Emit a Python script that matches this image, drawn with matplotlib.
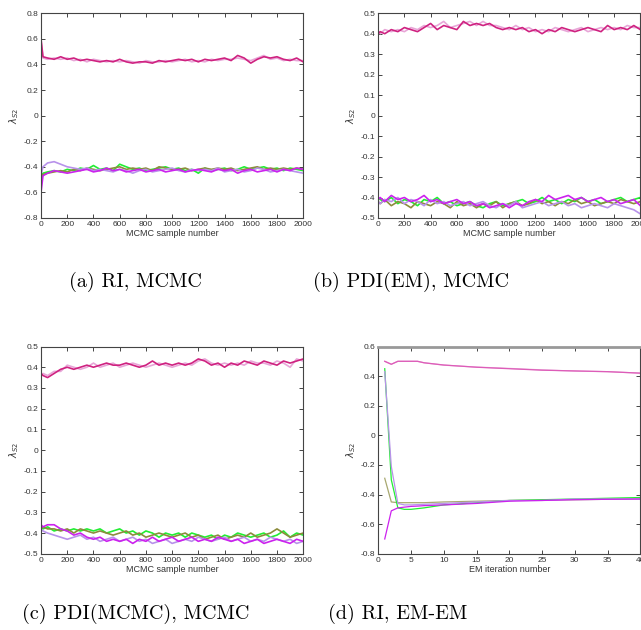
import matplotlib
matplotlib.use("Agg")
import matplotlib.pyplot as plt

# sample positions of the read-off MCMC trace values
mcmc_x = [0, 15, 50, 100, 150, 200, 250, 300, 350, 400, 450, 500, 550, 600, 650, 700,
          750, 800, 850, 900, 950, 1000, 1050, 1100, 1150, 1200, 1250, 1300, 1350, 1400,
          1450, 1500, 1550, 1600, 1650, 1700, 1750, 1800, 1850, 1900, 1950, 2000]

# (a) RI, MCMC
a_top1 = [0.60, 0.46, 0.45, 0.44, 0.46, 0.44, 0.45, 0.43, 0.44, 0.43, 0.42, 0.43, 0.42, 0.44,
          0.42, 0.41, 0.42, 0.42, 0.41, 0.43, 0.42, 0.43, 0.44, 0.43, 0.44, 0.42, 0.44, 0.43,
          0.44, 0.45, 0.43, 0.47, 0.45, 0.41, 0.44, 0.46, 0.45, 0.46, 0.44, 0.43, 0.45, 0.42]
a_top2 = [0.58, 0.45, 0.44, 0.45, 0.44, 0.45, 0.43, 0.44, 0.42, 0.44, 0.43, 0.42, 0.43, 0.42,
          0.43, 0.42, 0.41, 0.43, 0.42, 0.42, 0.43, 0.42, 0.43, 0.44, 0.42, 0.43, 0.42, 0.44,
          0.43, 0.44, 0.44, 0.45, 0.44, 0.43, 0.45, 0.47, 0.44, 0.45, 0.43, 0.44, 0.43, 0.43]
a_green = [-0.47, -0.45, -0.44, -0.43, -0.44, -0.42, -0.43, -0.41, -0.42, -0.39, -0.42, -0.41,
           -0.43, -0.38, -0.40, -0.42, -0.41, -0.43, -0.42, -0.41, -0.40, -0.42, -0.41, -0.43,
           -0.42, -0.45, -0.41, -0.43, -0.42, -0.41, -0.43, -0.42, -0.40, -0.42, -0.41, -0.40,
           -0.42, -0.41, -0.43, -0.41, -0.42, -0.43]
a_olive = [-0.50, -0.46, -0.45, -0.44, -0.43, -0.44, -0.42, -0.43, -0.41, -0.42, -0.43, -0.42,
           -0.41, -0.40, -0.42, -0.41, -0.42, -0.41, -0.43, -0.40, -0.41, -0.42, -0.42, -0.41,
           -0.43, -0.42, -0.41, -0.42, -0.41, -0.42, -0.41, -0.43, -0.42, -0.41, -0.40, -0.42,
           -0.41, -0.42, -0.41, -0.42, -0.41, -0.42]
a_mag = [-0.60, -0.47, -0.45, -0.43, -0.44, -0.45, -0.44, -0.43, -0.42, -0.44, -0.43, -0.41,
         -0.43, -0.42, -0.44, -0.43, -0.42, -0.44, -0.43, -0.42, -0.44, -0.43, -0.42, -0.44,
         -0.43, -0.42, -0.43, -0.44, -0.42, -0.43, -0.42, -0.45, -0.43, -0.42, -0.44, -0.43,
         -0.42, -0.44, -0.42, -0.43, -0.41, -0.42]
a_lav = [-0.46, -0.40, -0.37, -0.36, -0.38, -0.40, -0.41, -0.42, -0.41, -0.43, -0.42, -0.43,
         -0.44, -0.42, -0.43, -0.45, -0.43, -0.42, -0.44, -0.43, -0.42, -0.41, -0.43, -0.44,
         -0.42, -0.43, -0.42, -0.43, -0.41, -0.44, -0.43, -0.42, -0.44, -0.43, -0.41, -0.42,
         -0.44, -0.43, -0.42, -0.43, -0.44, -0.45]

# (b) PDI(EM), MCMC
b_top1 = [0.40, 0.41, 0.40, 0.42, 0.41, 0.43, 0.42, 0.41, 0.43, 0.45, 0.42, 0.44, 0.43, 0.42,
          0.46, 0.44, 0.45, 0.44, 0.45, 0.43, 0.42, 0.43, 0.42, 0.43, 0.41, 0.42, 0.40, 0.42,
          0.41, 0.43, 0.42, 0.41, 0.42, 0.43, 0.42, 0.41, 0.44, 0.42, 0.43, 0.42, 0.44, 0.42]
b_top2 = [0.41, 0.40, 0.42, 0.41, 0.42, 0.41, 0.43, 0.42, 0.44, 0.43, 0.44, 0.46, 0.43, 0.44,
          0.45, 0.46, 0.44, 0.46, 0.44, 0.44, 0.43, 0.42, 0.44, 0.42, 0.43, 0.41, 0.42, 0.41,
          0.43, 0.42, 0.41, 0.42, 0.43, 0.41, 0.42, 0.43, 0.42, 0.43, 0.42, 0.44, 0.43, 0.43]
b_green = [-0.40, -0.41, -0.42, -0.40, -0.43, -0.41, -0.42, -0.44, -0.41, -0.42, -0.40, -0.43,
           -0.42, -0.44, -0.43, -0.42, -0.44, -0.45, -0.43, -0.42, -0.44, -0.43, -0.42, -0.41,
           -0.43, -0.42, -0.40, -0.42, -0.41, -0.43, -0.41, -0.42, -0.40, -0.42, -0.41, -0.43,
           -0.42, -0.41, -0.40, -0.42, -0.41, -0.40]
b_olive = [-0.42, -0.43, -0.41, -0.44, -0.42, -0.43, -0.45, -0.42, -0.43, -0.44, -0.42, -0.43,
           -0.45, -0.42, -0.44, -0.43, -0.45, -0.43, -0.44, -0.42, -0.45, -0.43, -0.42, -0.44,
           -0.43, -0.41, -0.43, -0.42, -0.44, -0.42, -0.43, -0.41, -0.43, -0.42, -0.44, -0.43,
           -0.42, -0.43, -0.41, -0.42, -0.43, -0.42]
b_mag = [-0.41, -0.40, -0.42, -0.39, -0.41, -0.40, -0.42, -0.41, -0.39, -0.42, -0.41, -0.43,
         -0.42, -0.41, -0.43, -0.42, -0.44, -0.43, -0.45, -0.44, -0.43, -0.45, -0.43, -0.44,
         -0.42, -0.41, -0.42, -0.39, -0.41, -0.40, -0.39, -0.41, -0.40, -0.42, -0.41, -0.40,
         -0.42, -0.41, -0.43, -0.42, -0.41, -0.44]
b_lav = [-0.42, -0.43, -0.41, -0.42, -0.40, -0.43, -0.41, -0.42, -0.44, -0.41, -0.43, -0.42,
         -0.44, -0.43, -0.42, -0.44, -0.43, -0.42, -0.44, -0.45, -0.43, -0.44, -0.42, -0.45,
         -0.44, -0.43, -0.42, -0.44, -0.43, -0.42, -0.44, -0.43, -0.45, -0.44, -0.43, -0.44,
         -0.45, -0.43, -0.44, -0.45, -0.46, -0.48]

# (c) PDI(MCMC), MCMC
c_top1 = [0.37, 0.36, 0.35, 0.37, 0.39, 0.40, 0.39, 0.40, 0.41, 0.40, 0.41, 0.42, 0.41, 0.41,
          0.42, 0.41, 0.40, 0.41, 0.43, 0.41, 0.42, 0.41, 0.42, 0.41, 0.42, 0.44, 0.43, 0.41,
          0.42, 0.40, 0.42, 0.41, 0.43, 0.42, 0.41, 0.43, 0.42, 0.41, 0.43, 0.42, 0.43, 0.44]
c_top2 = [0.36, 0.37, 0.36, 0.38, 0.38, 0.41, 0.40, 0.39, 0.40, 0.42, 0.40, 0.41, 0.42, 0.40,
          0.41, 0.42, 0.41, 0.40, 0.41, 0.42, 0.41, 0.40, 0.41, 0.42, 0.41, 0.43, 0.44, 0.42,
          0.41, 0.42, 0.41, 0.42, 0.41, 0.43, 0.42, 0.42, 0.41, 0.43, 0.42, 0.40, 0.44, 0.43]
c_green = [-0.37, -0.38, -0.37, -0.39, -0.38, -0.39, -0.38, -0.39, -0.38, -0.39, -0.38, -0.40,
           -0.39, -0.38, -0.40, -0.39, -0.41, -0.39, -0.40, -0.42, -0.40, -0.41, -0.40, -0.42,
           -0.40, -0.41, -0.42, -0.41, -0.43, -0.41, -0.42, -0.40, -0.41, -0.42, -0.41, -0.40,
           -0.42, -0.41, -0.39, -0.42, -0.40, -0.41]
c_olive = [-0.38, -0.37, -0.38, -0.38, -0.39, -0.38, -0.40, -0.38, -0.39, -0.40, -0.39, -0.40,
           -0.41, -0.40, -0.39, -0.41, -0.40, -0.42, -0.41, -0.40, -0.41, -0.42, -0.41, -0.40,
           -0.42, -0.41, -0.43, -0.42, -0.41, -0.43, -0.42, -0.41, -0.42, -0.40, -0.42, -0.41,
           -0.40, -0.38, -0.40, -0.42, -0.41, -0.40]
c_mag = [-0.36, -0.37, -0.36, -0.36, -0.38, -0.39, -0.41, -0.40, -0.42, -0.43, -0.42, -0.44,
         -0.43, -0.44, -0.43, -0.45, -0.43, -0.44, -0.42, -0.44, -0.43, -0.42, -0.44, -0.43,
         -0.42, -0.44, -0.43, -0.44, -0.42, -0.43, -0.44, -0.43, -0.45, -0.44, -0.43, -0.45,
         -0.44, -0.43, -0.44, -0.45, -0.43, -0.44]
c_lav = [-0.38, -0.39, -0.40, -0.41, -0.42, -0.43, -0.42, -0.41, -0.43, -0.42, -0.44, -0.43,
         -0.42, -0.44, -0.43, -0.42, -0.44, -0.43, -0.45, -0.44, -0.43, -0.45, -0.44, -0.43,
         -0.44, -0.42, -0.43, -0.44, -0.43, -0.42, -0.44, -0.43, -0.42, -0.44, -0.43, -0.44,
         -0.42, -0.43, -0.44, -0.43, -0.45, -0.44]

# (d) RI, EM-EM
em_x = [1, 2, 3, 4, 5, 6, 7, 10, 15, 20, 25, 30, 35, 40]
d_top1 = [0.50, 0.48, 0.50, 0.50, 0.50, 0.50, 0.49, 0.475, 0.46, 0.45, 0.44, 0.435, 0.43, 0.42]
d_top2 = [0.50, 0.48, 0.50, 0.50, 0.50, 0.50, 0.49, 0.474, 0.461, 0.452, 0.442, 0.434, 0.43, 0.42]
d_green = [0.45, -0.30, -0.49, -0.50, -0.50, -0.495, -0.49, -0.47, -0.455, -0.44, -0.435, -0.43, -0.425, -0.42]
d_olive = [-0.29, -0.45, -0.455, -0.455, -0.455, -0.455, -0.455, -0.45, -0.445, -0.44, -0.437, -0.435, -0.432, -0.43]
d_mag = [-0.70, -0.51, -0.49, -0.485, -0.48, -0.478, -0.475, -0.47, -0.46, -0.445, -0.44, -0.435, -0.432, -0.43]
d_lav = [0.43, -0.21, -0.46, -0.47, -0.47, -0.468, -0.466, -0.46, -0.45, -0.44, -0.44, -0.43, -0.43, -0.43]

col_top1 = "#cf2280"
col_top2 = "#e8a6d8"
col_green = "#22ee33"
col_olive = "#8c8c3c"
col_mag = "#cc22ee"
col_lav = "#b892ea"

captions = ["(a) RI, MCMC", "(b) PDI(EM), MCMC", "(c) PDI(MCMC), MCMC", "(d) RI, EM-EM"]


def style_axes(ax):
    for sp in ax.spines.values():
        sp.set_color("#444444")
        sp.set_linewidth(0.8)
    ax.tick_params(direction="in", top=True, right=True, length=3, width=0.7,
                   color="#444444", labelsize=6, labelcolor="#333333", pad=2)
    for lab in ax.get_xticklabels() + ax.get_yticklabels():
        lab.set_fontfamily("Liberation Sans")


fig = plt.figure(figsize=(6.41, 6.30), dpi=100)
fig.patch.set_facecolor("white")

positions = [
    [0.064, 0.654, 0.409, 0.325],
    [0.590, 0.654, 0.409, 0.325],
    [0.064, 0.121, 0.409, 0.329],
    [0.590, 0.121, 0.409, 0.329],
]

mcmc_sets = [
    (a_top1, a_top2, a_green, a_olive, a_lav, a_mag, (-0.8, 0.8), 0.2),
    (b_top1, b_top2, b_green, b_olive, b_lav, b_mag, (-0.5, 0.5), 0.1),
    (c_top1, c_top2, c_green, c_olive, c_lav, c_mag, (-0.5, 0.5), 0.1),
]

axes = [fig.add_axes(p) for p in positions]

lw = 1.2
for ax, (t1, t2, g, o, lv, m, ylim, step) in zip([axes[0], axes[1], axes[2]], mcmc_sets):
    ax.plot(mcmc_x, t2, color=col_top2, lw=lw)
    ax.plot(mcmc_x, t1, color=col_top1, lw=lw)
    ax.plot(mcmc_x, g, color=col_green, lw=lw)
    ax.plot(mcmc_x, o, color=col_olive, lw=lw)
    ax.plot(mcmc_x, lv, color=col_lav, lw=lw)
    ax.plot(mcmc_x, m, color=col_mag, lw=lw)
    ax.set_xlim(0, 2000)
    ax.set_ylim(*ylim)
    ax.set_xticks(range(0, 2001, 200))
    n = int(round((ylim[1] - ylim[0]) / step))
    ticks = [round(ylim[0] + i * step, 2) for i in range(n + 1)]
    ax.set_yticks(ticks)
    ax.set_yticklabels(["0" if t == 0 else ("%g" % t) for t in ticks])
    ax.set_xlabel("MCMC sample number", fontsize=6.5, color="#333333",
                  family="Liberation Sans", labelpad=1)

ax = axes[3]
ax.plot(em_x, d_top2, color=col_top2, lw=0.9)
ax.plot(em_x, d_top1, color="#dd5cb8", lw=0.9)
ax.plot(em_x, d_olive, color="#a8a870", lw=0.9)
ax.plot(em_x, d_green, color=col_green, lw=0.9)
ax.plot(em_x, d_lav, color=col_lav, lw=0.9)
ax.plot(em_x, d_mag, color=col_mag, lw=0.9)
ax.set_xlim(0, 40)
ax.set_ylim(-0.8, 0.6)
ax.set_xticks(range(0, 41, 5))
dticks = [-0.8, -0.6, -0.4, -0.2, 0, 0.2, 0.4, 0.6]
ax.set_yticks(dticks)
ax.set_yticklabels(["0" if t == 0 else ("%g" % t) for t in dticks])
ax.set_xlabel("EM iteration number", fontsize=6.5, color="#333333",
              family="Liberation Sans", labelpad=1)

for ax in axes:
    style_axes(ax)
    ax.set_ylabel(r"$\lambda_{S2}$", fontsize=7, color="#333333", labelpad=2)

axes[3].spines["top"].set_linewidth(2.0)
axes[3].spines["top"].set_color("#999999")

cap_xy = [(0.211, 0.553), (0.641, 0.553), (0.211, 0.026), (0.620, 0.026)]
for (cx, cy), txt in zip(cap_xy, captions):
    fig.text(cx, cy, txt, ha="center", va="center", fontsize=14.5, family="cmr10")

fig.savefig("out.png", dpi=100)
